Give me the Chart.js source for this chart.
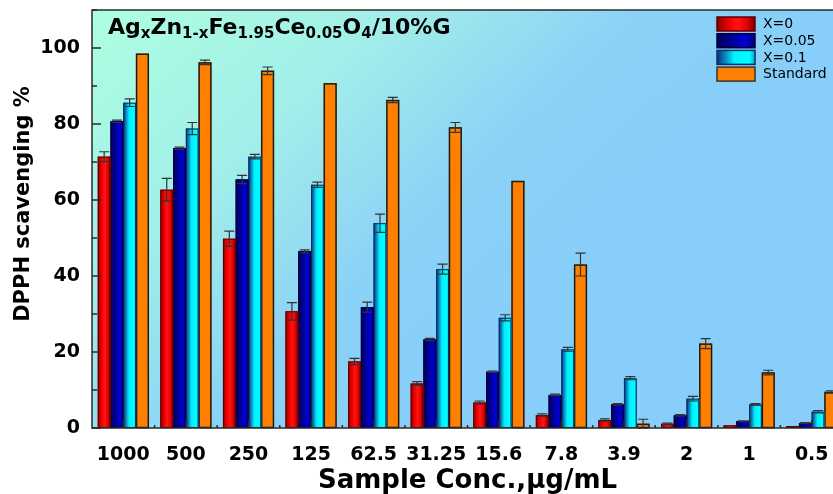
<!DOCTYPE html>
<html>
<head>
<meta charset="utf-8">
<script src="https://cdn.jsdelivr.net/npm/chart.js@4.4.1/dist/chart.umd.min.js"></script>
<style>
    html, body { margin: 0; padding: 0; overflow: hidden; background: #fff; }
    #wrap { width: 850px; height: 494px; }
</style>
</head>
<body>
<div id="wrap"><canvas id="graficoDPPH"></canvas></div>
<script>
// concentrações (ug/mL)
const categorias = ["1000", "500", "250", "125", "62.5", "31.25", "15.6", "7.8", "3.9", "2", "1", "0.5"];
const nomesSeries = ["X=0", "X=0.05", "X=0.1", "Standard"];

// % de captura DPPH
const valoresX0 = [71.4, 62.7, 49.8, 30.7, 17.5, 11.7, 6.7, 3.4, 2.1, 1.1, 0.7, 0.5];
const valoresX005 = [80.7, 73.6, 65.4, 46.5, 31.8, 23.3, 14.8, 8.7, 6.2, 3.3, 1.8, 1.3];
const valoresX01 = [85.6, 78.8, 71.4, 64.0, 53.9, 41.8, 29.0, 20.7, 13.1, 7.7, 6.2, 4.3];
const valoresStandard = [98.5, 96.2, 94.0, 90.7, 86.3, 79.1, 65.0, 43.0, 1.1, 22.2, 14.6, 9.5];

// desvios (barras de erro)
const errosX0 = [1.3, 3.0, 2.0, 2.3, 0.8, 0.5, 0.4, 0.3, 0.3, 0.2, 0, 0];
const errosX005 = [0.3, 0.3, 1.1, 0.4, 1.3, 0.3, 0.2, 0.2, 0.2, 0.2, 0.1, 0.1];
const errosX01 = [1.0, 1.6, 0.6, 0.7, 2.4, 1.3, 0.8, 0.5, 0.4, 0.6, 0.2, 0.3];
const errosStandard = [0, 0.6, 1.0, 0, 0.7, 1.3, 0, 3.0, 1.2, 1.3, 0.6, 0.3];

const yTicks = [0, 20, 40, 60, 80, 100];

document.addEventListener("DOMContentLoaded", function () {
    const fonte = "'DejaVu Sans', Verdana, sans-serif";

    // gradientes horizontais de cada série
    const paradas = [
        [[0, '#8a0000'], [0.3, '#ee0000'], [0.55, '#ff1414'], [0.8, '#e00000'], [1, '#780000']],
        [[0, '#00005a'], [0.35, '#000090'], [0.75, '#0000d8'], [1, '#000070']],
        [[0, '#0a2f7a'], [0.2, '#0a7fb8'], [0.45, '#00f0ff'], [0.85, '#00ffff'], [1, '#00a8c8']],
        [[0, '#ff8000'], [1, '#ff8000']]
    ];
    const bordas = ['#5a0000', '#000030', '#0b2e66', '#1a1a1a'];
    const erros = [errosX0, errosX005, errosX01, errosStandard];

    function gradiente(ctx, i, left, w) {
        const g = ctx.createLinearGradient(left, 0, left + w, 0);
        paradas[i].forEach(p => g.addColorStop(p[0], p[1]));
        return g;
    }

    const fundo = {
        id: 'fundo',
        beforeDraw(chart) {
            const { ctx, chartArea: a } = chart;
            const g = ctx.createLinearGradient(a.left, a.top, a.left + 360, a.top + 380);
            g.addColorStop(0, '#adffe0');
            g.addColorStop(0.4, '#a2eeea');
            g.addColorStop(0.72, '#8bd2f6');
            g.addColorStop(1, '#87cefa');
            ctx.save();
            ctx.fillStyle = g;
            ctx.fillRect(a.left, a.top, a.right - a.left, a.bottom - a.top);
            ctx.restore();
        }
    };

    // pinta o gradiente por cima de cada barra
    const barrasGradiente = {
        id: 'barrasGradiente',
        afterDatasetDraw(chart, args) {
            const ctx = chart.ctx;
            const i = args.index;
            ctx.save();
            args.meta.data.forEach(el => {
                const p = el.getProps(['x', 'y', 'base', 'width'], true);
                const left = p.x - p.width / 2;
                const top = Math.min(p.y, p.base);
                const h = Math.abs(p.base - p.y);
                if (h < 0.5) return;
                ctx.fillStyle = gradiente(ctx, i, left, p.width);
                ctx.fillRect(left, top, p.width, h);
                ctx.strokeStyle = bordas[i];
                ctx.lineWidth = i === 3 ? 1.5 : 1;
                ctx.strokeRect(left + 0.5, top + 0.5, p.width - 1, h - 1);
            });
            ctx.restore();
        }
    };

    const barrasErro = {
        id: 'barrasErro',
        afterDatasetsDraw(chart) {
            const ctx = chart.ctx;
            const y = chart.scales.y;
            ctx.save();
            ctx.strokeStyle = '#333';
            ctx.lineWidth = 1.2;
            chart.data.datasets.forEach((ds, i) => {
                const meta = chart.getDatasetMeta(i);
                meta.data.forEach((el, j) => {
                    const e = erros[i][j];
                    if (!e) return;
                    const x = el.x;
                    const yt = y.getPixelForValue(ds.data[j] + e);
                    const yb = y.getPixelForValue(Math.max(ds.data[j] - e, 0));
                    const c = 5;
                    ctx.beginPath();
                    ctx.moveTo(x, yt); ctx.lineTo(x, yb);
                    ctx.moveTo(x - c, yt); ctx.lineTo(x + c, yt);
                    ctx.moveTo(x - c, yb); ctx.lineTo(x + c, yb);
                    ctx.stroke();
                });
            });
            ctx.restore();
        }
    };

    // moldura, marcas para dentro, títulos e legenda
    const decoracao = {
        id: 'decoracao',
        afterDraw(chart) {
            const { ctx, chartArea: a, scales } = chart;
            ctx.save();
            ctx.strokeStyle = '#2a2a2a';
            ctx.lineWidth = 1.5;
            ctx.strokeRect(a.left, a.top, a.right - a.left, a.bottom - a.top);

            ctx.beginPath();
            for (let v = 0; v <= 110; v += 10) {
                const py = scales.y.getPixelForValue(v);
                const len = v % 20 === 0 ? 9 : 5;
                ctx.moveTo(a.left, py); ctx.lineTo(a.left + len, py);
            }
            const passo = scales.x.getPixelForValue(1) - scales.x.getPixelForValue(0);
            categorias.forEach((c, k) => {
                const px = scales.x.getPixelForValue(k);
                ctx.moveTo(px, a.bottom); ctx.lineTo(px, a.bottom - 8);
                ctx.moveTo(px + passo / 2, a.bottom); ctx.lineTo(px + passo / 2, a.bottom - 3);
            });
            ctx.stroke();

            // título do eixo y
            ctx.fillStyle = '#000';
            ctx.font = "bold 21px " + fonte;
            ctx.textAlign = 'center';
            ctx.textBaseline = 'middle';
            ctx.save();
            ctx.translate(24, 204);
            ctx.rotate(-Math.PI / 2);
            ctx.fillText('DPPH scavenging %', 0, 0);
            ctx.restore();

            // fórmula no topo
            const partes = [
                ['Ag', 0], ['x', 1], ['Zn', 0], ['1-x', 1], ['Fe', 0], ['1.95', 1],
                ['Ce', 0], ['0.05', 1], ['O', 0], ['4', 1], ['/10%G', 0]
            ];
            ctx.textAlign = 'left';
            ctx.textBaseline = 'alphabetic';
            let x = 108;
            partes.forEach(([t, sub]) => {
                ctx.font = sub ? "bold 15px " + fonte : "bold 22px " + fonte;
                ctx.fillText(t, x, sub ? 38 : 34);
                x += ctx.measureText(t).width;
            });

            // legenda
            ctx.font = "14px " + fonte;
            ctx.textBaseline = 'middle';
            nomesSeries.forEach((n, i) => {
                const ly = 17 + i * 16.7;
                ctx.fillStyle = gradiente(ctx, i, 717, 38);
                ctx.fillRect(717, ly, 38, 14);
                ctx.strokeStyle = i === 3 ? '#333' : bordas[i];
                ctx.lineWidth = 1.5;
                ctx.strokeRect(717, ly, 38, 14);
                ctx.fillStyle = '#000';
                ctx.fillText(n, 763, ly + 7.5);
            });
            ctx.restore();
        }
    };

    const datasets = [valoresX0, valoresX005, valoresX01, valoresStandard].map((d, i) => ({
        label: nomesSeries[i],
        data: d,
        backgroundColor: paradas[i][1][1],
        borderWidth: 0
    }));

    const config = {
        type: 'bar',
        data: { labels: categorias, datasets },
        options: {
            responsive: true,
            maintainAspectRatio: false,
            animation: false,
            layout: { padding: { top: 10, right: 7, left: 0, bottom: 0 } },
            datasets: { bar: { categoryPercentage: 0.815, barPercentage: 1 } },
            plugins: {
                legend: { display: false },
                tooltip: { enabled: false }
            },
            scales: {
                x: {
                    grid: { display: false, drawTicks: false },
                    border: { display: false },
                    ticks: {
                        color: '#000',
                        font: { family: fonte, size: 19, weight: 'bold' },
                        padding: 16,
                        maxRotation: 0,
                        autoSkip: false
                    },
                    title: {
                        display: true,
                        text: 'Sample Conc.,\u03bcg/mL',
                        color: '#000',
                        font: { family: fonte, size: 26, weight: 'bold', lineHeight: 1 },
                        padding: { top: 0, bottom: 0 }
                    },
                    afterFit: s => { s.height = 66; s.paddingLeft = 0; s.paddingRight = 0; }
                },
                y: {
                    min: 0,
                    max: 110,
                    grid: { display: false, drawTicks: false },
                    border: { display: false },
                    afterBuildTicks: s => { s.ticks = yTicks.map(v => ({ value: v })); },
                    ticks: {
                        color: '#000',
                        font: { family: fonte, size: 19, weight: 'bold' },
                        padding: 12
                    },
                    afterFit: s => { s.width = 92; s.paddingTop = 0; s.paddingBottom = 0; }
                }
            }
        },
        plugins: [fundo, barrasGradiente, barrasErro, decoracao]
    };

    new Chart(document.getElementById("graficoDPPH").getContext("2d"), config);
});
</script>
</body>
</html>
